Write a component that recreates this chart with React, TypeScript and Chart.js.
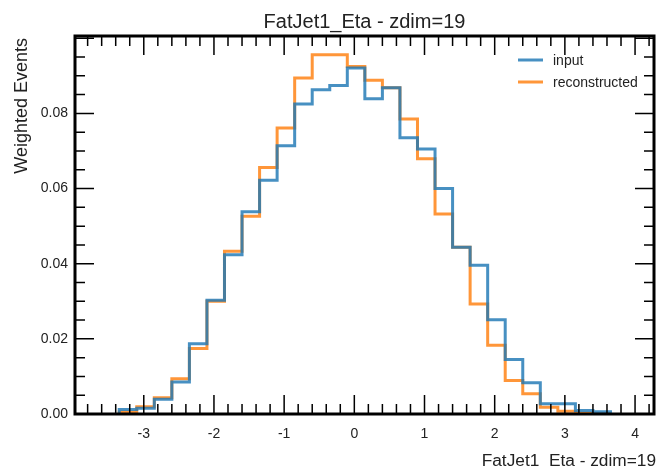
import React, { useEffect, useRef } from 'react';
import { Chart, registerables } from 'chart.js';

Chart.register(...registerables);

// ---- data ----
const binEdges = [
  -3.35, -3.1, -2.85, -2.6, -2.35, -2.1, -1.85, -1.6, -1.35, -1.1, -0.85, -0.6, -0.35, -0.1,
  0.15, 0.4, 0.65, 0.9, 1.15, 1.4, 1.65, 1.9, 2.15, 2.4, 2.65, 2.9, 3.15, 3.4, 3.65,
];
const inputValues = [
  0.0012, 0.0015, 0.0039, 0.0085, 0.0187, 0.0303, 0.0424, 0.0538, 0.0622, 0.0714, 0.0825, 0.0863,
  0.0874, 0.0921, 0.0839, 0.0868, 0.0735, 0.0705, 0.06, 0.0444, 0.0396, 0.0251, 0.0145, 0.0083,
  0.0027, 0.0027, 0.0009, 0.0006,
];
const reconstructedValues = [
  0.0005, 0.0019, 0.0043, 0.0094, 0.0174, 0.03, 0.0433, 0.0526, 0.0656, 0.0761, 0.0894, 0.0956,
  0.0956, 0.0925, 0.0888, 0.0868, 0.0785, 0.0679, 0.0532, 0.0444, 0.0293, 0.0183, 0.0089, 0.0054,
  0.0018, 0.0007, 0.0002, 0.0,
];
const seriesLabels = ['input', 'reconstructed'];
const xTickValues = [-3, -2, -1, 0, 1, 2, 3, 4];
const yTickValues = [0, 0.02, 0.04, 0.06, 0.08];
const X_MIN = -3.98;
const X_MAX = 4.27;
const Y_MIN = 0;
const Y_MAX = 0.1006;
const chartTitle = 'FatJet1_Eta - zdim=19';
const xAxisTitle = 'FatJet1_Eta - zdim=19';
const yAxisTitle = 'Weighted Events';

const BLUE = 'rgba(31,119,180,0.82)';
const ORANGE = 'rgba(255,127,14,0.82)';
const FONT = "'Liberation Sans', Arial, sans-serif";

function stepPoints(edges: number[], values: number[]) {
  const pts: { x: number; y: number }[] = [{ x: edges[0], y: 0 }];
  values.forEach((v, i) => pts.push({ x: edges[i], y: v }));
  pts.push({ x: edges[edges.length - 1], y: 0 });
  return pts;
}

const decorPlugin = {
  id: 'decor',
  afterDatasetsDraw(chart: any) {
    const { ctx, chartArea: a, scales } = chart;
    const x = scales.x;
    const y = scales.y;
    ctx.save();
    ctx.strokeStyle = '#000';
    ctx.lineWidth = 1.5;
    const MAJ = 19;
    const MIN = 10;
    // x ticks (bottom & top, inside)
    for (let k = Math.ceil(X_MIN / 0.2); k * 0.2 <= X_MAX + 1e-9; k++) {
      const v = k * 0.2;
      const major = k % 5 === 0;
      const px = x.getPixelForValue(v);
      const len = major ? MAJ : MIN;
      ctx.beginPath();
      ctx.moveTo(px, a.bottom);
      ctx.lineTo(px, a.bottom - len);
      ctx.moveTo(px, a.top);
      ctx.lineTo(px, a.top + len);
      ctx.stroke();
    }
    // y ticks (left & right, inside)
    for (let k = 0; k * 0.005 <= Y_MAX + 1e-9; k++) {
      const v = k * 0.005;
      const major = k % 4 === 0;
      const py = y.getPixelForValue(v);
      const len = major ? MAJ : MIN;
      ctx.beginPath();
      ctx.moveTo(a.left, py);
      ctx.lineTo(a.left + len, py);
      ctx.moveTo(a.right, py);
      ctx.lineTo(a.right - len, py);
      ctx.stroke();
    }
    // frame
    ctx.lineWidth = 3;
    ctx.strokeRect(a.left, a.top, a.right - a.left, a.bottom - a.top);

    // title
    ctx.fillStyle = '#222';
    ctx.font = `20px ${FONT}`;
    ctx.textAlign = 'center';
    ctx.textBaseline = 'alphabetic';
    ctx.fillText(chartTitle, (a.left + a.right) / 2, 28);

    // x axis title (right aligned)
    ctx.font = `17.3px ${FONT}`;
    ctx.textAlign = 'right';
    ctx.fillText(xAxisTitle, a.right + 2, 466);

    // y axis title (top aligned)
    ctx.save();
    ctx.translate(22, 38);
    ctx.rotate(-Math.PI / 2);
    ctx.textAlign = 'right';
    ctx.textBaseline = 'middle';
    ctx.font = `18px ${FONT}`;
    ctx.fillText(yAxisTitle, 0, 0);
    ctx.restore();

    // legend
    const colors = [BLUE, ORANGE];
    const ys = [60, 82];
    seriesLabels.forEach((lab, i) => {
      ctx.strokeStyle = colors[i];
      ctx.lineWidth = 3;
      ctx.beginPath();
      ctx.moveTo(518, ys[i]);
      ctx.lineTo(543, ys[i]);
      ctx.stroke();
      ctx.fillStyle = '#222';
      ctx.font = `14px ${FONT}`;
      ctx.textAlign = 'left';
      ctx.textBaseline = 'middle';
      ctx.fillText(lab, 553, ys[i] + 1);
    });
    ctx.restore();
  },
};

export default function App() {
  const ref = useRef<HTMLCanvasElement>(null);
  useEffect(() => {
    document.body.style.margin = '0';
    const canvas = ref.current;
    if (!canvas) return;
    const chart = new Chart(canvas, {
      type: 'line',
      data: {
        datasets: [
          {
            label: seriesLabels[0],
            data: stepPoints(binEdges, inputValues),
            borderColor: BLUE,
            borderWidth: 3,
            pointRadius: 0,
            stepped: true,
            fill: false,
          },
          {
            label: seriesLabels[1],
            data: stepPoints(binEdges, reconstructedValues),
            borderColor: ORANGE,
            borderWidth: 3,
            pointRadius: 0,
            stepped: true,
            fill: false,
          },
        ],
      },
      options: {
        animation: false,
        responsive: false,
        maintainAspectRatio: false,
        layout: { padding: { top: 36, right: 8, left: 0, bottom: 0 } },
        plugins: {
          legend: { display: false },
          tooltip: { enabled: false },
          title: { display: false },
        },
        scales: {
          x: {
            type: 'linear',
            min: X_MIN,
            max: X_MAX,
            grid: { display: false, drawTicks: false },
            border: { display: false },
            afterBuildTicks: (s: any) => {
              s.ticks = xTickValues.map((v) => ({ value: v }));
            },
            afterFit: (s: any) => {
              s.height = 54;
            },
            ticks: {
              padding: 12,
              autoSkip: false,
              maxRotation: 0,
              color: '#222',
              font: { family: FONT, size: 14 },
              callback: (v: any) => String(v),
            },
          },
          y: {
            type: 'linear',
            min: Y_MIN,
            max: Y_MAX,
            grid: { display: false, drawTicks: false },
            border: { display: false },
            afterBuildTicks: (s: any) => {
              s.ticks = yTickValues.map((v) => ({ value: v }));
            },
            afterFit: (s: any) => {
              s.width = 75;
            },
            ticks: {
              padding: 7,
              autoSkip: false,
              color: '#222',
              font: { family: FONT, size: 14 },
              callback: (v: any) => Number(v).toFixed(2),
            },
          },
        },
      },
      plugins: [decorPlugin],
    });
    return () => chart.destroy();
  }, []);
  return (
    <div style={{ width: 662, height: 468 }}>
      <canvas ref={ref} width={662} height={468} style={{ display: 'block' }} />
    </div>
  );
}
